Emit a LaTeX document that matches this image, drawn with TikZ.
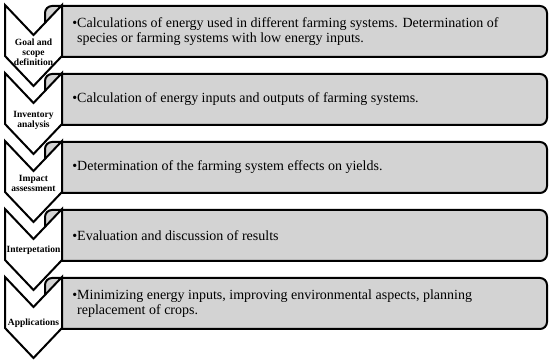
\documentclass[tikz,border=0pt]{standalone}
\usepackage{fontspec}
\setmainfont{Liberation Serif}
\usetikzlibrary{positioning, calc}
\definecolor{boxgray}{RGB}{211,211,211}

\begin{document}
\begin{tikzpicture}[x=1pt, y=1pt,
    stagebox/.style={draw=black, line width=2pt, fill=boxgray, rounded corners=7pt, minimum width=502pt, minimum height=51pt, anchor=north west, inner sep=0pt},
    chevron/.style={draw=black, line width=2pt, fill=white, line join=miter},
    stagelabel/.style={font=\bfseries\fontsize{9.5}{10}\selectfont, align=center, inner sep=0pt},
    itemtext/.style={font=\fontsize{14}{15}\selectfont, align=left, anchor=west, inner sep=0pt}
  ]
  \useasboundingbox (0,0) rectangle (550,-363);

  % Kaesten
  \foreach \i/\txt in {0/{Calculations of energy used in different farming systems. Determination of\\species or farming systems with low energy inputs.},
                       1/{Calculation of energy inputs and outputs of farming systems.},
                       2/{Determination of the farming system effects on yields.},
                       3/{Evaluation and discussion of results},
                       4/{Minimizing energy inputs, improving environmental aspects, planning\\replacement of crops.}} {
    \node[stagebox] (box\i) at (44,-5-68*\i) {};
    \node[itemtext] (item\i) at ([xshift=33pt]box\i.west) {\llap{\textbullet}\txt};
  }

  % Pfeile
  \foreach \i/\lab/\dy in {0/{Goal and\\scope\\definition}/47,
                           1/{Inventory\\analysis}/47.5,
                           2/{Impact\\assessment}/42,
                           3/{Interpetation}/41,
                           4/{Applications}/46} {
    \pgfmathsetmacro{\ytop}{-5-68*\i}
    \draw[chevron] (5,\ytop) -- (33.5,\ytop-30) -- (62,\ytop) -- (62,\ytop-51)
      -- (33.5,\ytop-81) -- (5,\ytop-51) -- cycle;
    \node[stagelabel] (stage\i) at (33.5,\ytop-\dy) {\lab};
  }
\end{tikzpicture}
\end{document}
